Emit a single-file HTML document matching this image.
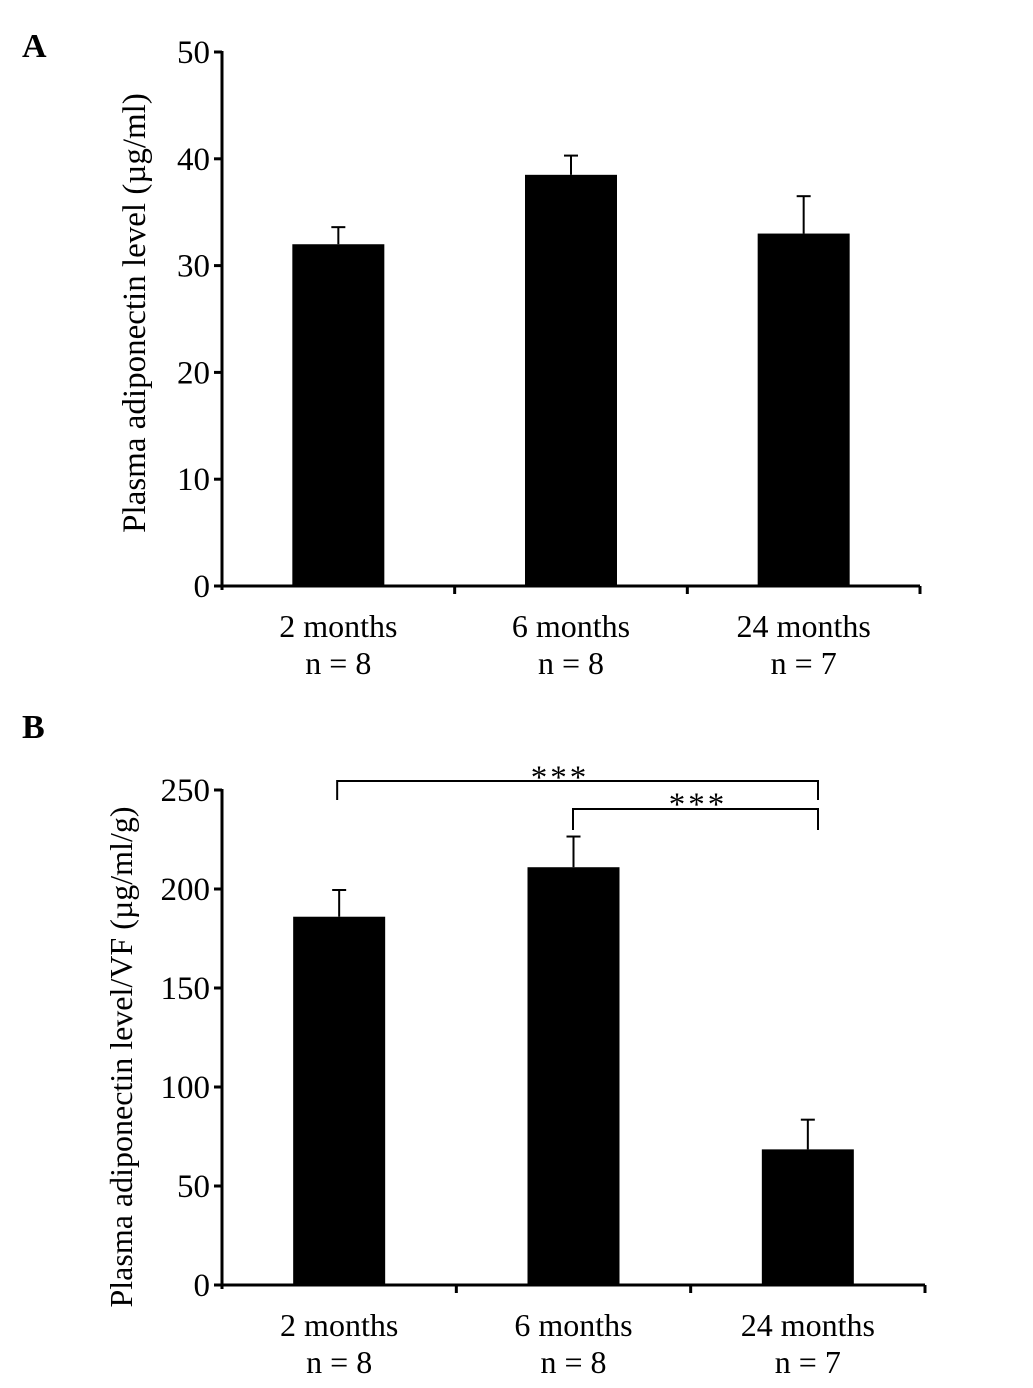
<!DOCTYPE html>
<html><head><meta charset="utf-8"><style>
body{margin:0;background:#fff;}
svg{display:block;font-family:"Liberation Serif",serif;}
</style></head><body>
<svg id="chart" width="1033" height="1388" viewBox="0 0 1033 1388"></svg>
<script>
const categories=["2 months","6 months","24 months"];
const nLabels=["n = 8","n = 8","n = 7"];
const valuesA=[32,38.5,33];
const errA=[1.6,1.8,3.5];
const ticksA=[0,10,20,30,40,50];
const valuesB=[186,211,68.5];
const errB=[13.5,15.5,15];
const ticksB=[0,50,100,150,200,250];
const NS="http://www.w3.org/2000/svg";
const svg=document.getElementById('chart');
function mk(tag,attrs,parent){const e=document.createElementNS(NS,tag);for(const k in attrs)e.setAttribute(k,attrs[k]);(parent||svg).appendChild(e);return e;}
function panel(cfg){
  const g=mk('g',{});
  
  
  const y=v=>cfg.y0-(v/cfg.max)*(cfg.y0-cfg.yTop);
  const ax=cfg.ax, bw=92;
  const step=(cfg.xEnd-ax)/categories.length;
  const xc=i=>ax+step*(i+0.5);
  const ya=mk('line',{x1:ax,y1:cfg.yTop-1,x2:ax,y2:cfg.y0+4,stroke:'#000','stroke-width':3},g);
  
  const xa=mk('line',{x1:ax-8,y1:cfg.y0,x2:cfg.xEnd,y2:cfg.y0,stroke:'#000','stroke-width':3},g);
  
  cfg.ticks.forEach(t=>{
    const l=mk('line',{x1:ax-8,y1:y(t),x2:ax,y2:y(t),stroke:'#000','stroke-width':3},g);
    
    const tx=mk('text',{x:ax-12,y:y(t)+11,'text-anchor':'end','font-size':33},g);
    tx.textContent=t;
    
  });
  for(let i=1;i<=categories.length;i++){
    const l=mk('line',{x1:ax+step*i,y1:cfg.y0,x2:ax+step*i,y2:cfg.y0+8,stroke:'#000','stroke-width':3},g);
    
  }
  categories.forEach((c,i)=>{
    const cx=xc(i);
    const v=cfg.vals[i],e=cfg.errs[i];
    const el=mk('line',{x1:cx,y1:y(v+e),x2:cx,y2:y(v),stroke:'#000','stroke-width':2},g);
    
    const cap=mk('line',{x1:cx-7,y1:y(v+e),x2:cx+7,y2:y(v+e),stroke:'#000','stroke-width':2},g);
    
    const r=mk('rect',{x:cx-bw/2,y:y(v),width:bw,height:cfg.y0-y(v),fill:'#000'},g);
    
    const t1=mk('text',{x:cx,y:cfg.y0+51,'text-anchor':'middle','font-size':32},g);
    t1.textContent=c;
    const t2=mk('text',{x:cx,y:cfg.y0+cfg.nOff,'text-anchor':'middle','font-size':32},g);
    t2.textContent=nLabels[i];
  });
  const yt=mk('text',{x:0,y:0,'text-anchor':'middle','font-size':cfg.titleSize,transform:`translate(${cfg.titleX},${cfg.titleY}) rotate(-90)`,'xml:space':'preserve'},g);
  yt.textContent=cfg.title;
  const pl=mk('text',{x:22,y:cfg.letterY,'font-size':34,'font-weight':'bold'},g);
  pl.textContent=cfg.letter;
  return {y,xc};
}
panel({name:'panel-a',ax:222,xEnd:920,y0:586,yTop:52,max:50,ticks:ticksA,vals:valuesA,errs:errA,nOff:88,title:'Plasma  adiponectin level (µg/ml)',titleSize:33,titleX:145,titleY:313,letter:'A',letterY:57});
const pb=panel({name:'panel-b',ax:222,xEnd:925,y0:1285,yTop:790,max:250,ticks:ticksB,vals:valuesB,errs:errB,nOff:88,title:'Plasma adiponectin level/VF (µg/ml/g)',titleSize:32,titleX:132,titleY:1057,letter:'B',letterY:738});
const br1=mk('path',{d:`M${pb.xc(0)-2},800 V781 H818 V800`,fill:'none',stroke:'#000','stroke-width':2});

const br2=mk('path',{d:`M573,830 V809 H818 V830`,fill:'none',stroke:'#000','stroke-width':2});

const s1=mk('text',{x:560,y:788,'text-anchor':'middle','font-size':33,'letter-spacing':3});s1.textContent='***';

const s2=mk('text',{x:698,y:815,'text-anchor':'middle','font-size':33,'letter-spacing':3});s2.textContent='***';

</script>
</body></html>
